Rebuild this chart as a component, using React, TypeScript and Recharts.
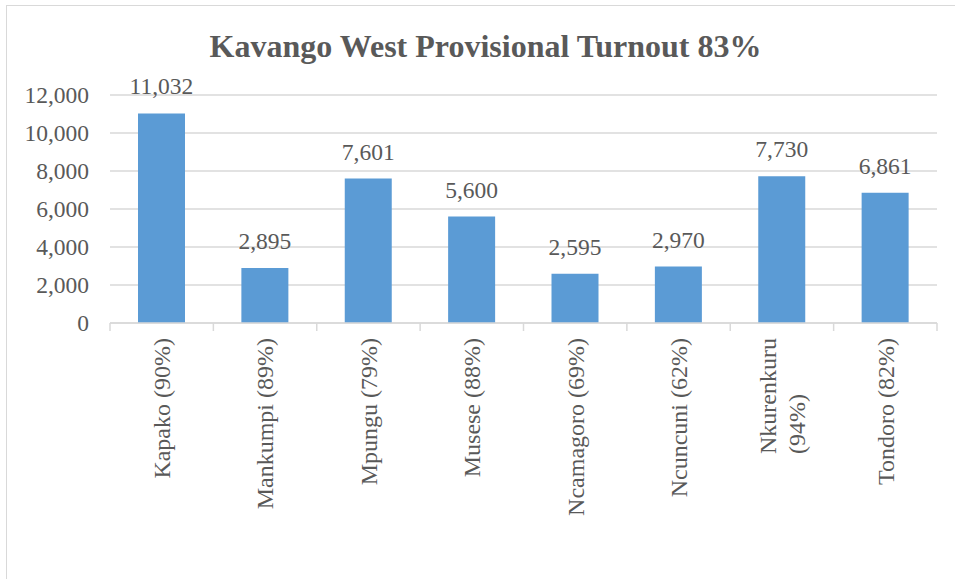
import React from 'react';
import { BarChart, Bar, XAxis, YAxis, CartesianGrid, LabelList } from 'recharts';

const categories = [
  'Kapako (90%)',
  'Mankumpi (89%)',
  'Mpungu (79%)',
  'Musese (88%)',
  'Ncamagoro (69%)',
  'Ncuncuni (62%)',
  'Nkurenkuru\n(94%)',
  'Tondoro (82%)',
];
const turnout = [11032, 2895, 7601, 5600, 2595, 2970, 7730, 6861];
const yTicks = [0, 2000, 4000, 6000, 8000, 10000, 12000];

const data = categories.map((name, i) => ({ name, turnout: turnout[i] }));

const FONT = '"Liberation Serif", "Times New Roman", serif';
const TEXT = '#595959';
const GRID = '#d9d9d9';

let ctx: CanvasRenderingContext2D | null = null;
const measure = (s: string, size: number) => {
  if (!ctx) ctx = document.createElement('canvas').getContext('2d');
  if (!ctx) return s.length * size * 0.5;
  ctx.font = `${size}px "Liberation Serif"`;
  return ctx.measureText(s).width;
};

const fmt = (v: any) => Number(v).toLocaleString('en-US');

// rotated category labels + tick marks on the band edges (like Excel)
const CategoryTick = (props: any) => {
  const { x, y, payload, index } = props;
  const band = (props.width || 827) / categories.length;
  const lines = String(payload.value).split('\n');
  const size = 24;
  const lh = 29;
  const top = y + 15;
  const longest = Math.max(...lines.map((l) => measure(l, size)));
  const bottom = top + longest;
  return (
    <g>
      <line x1={x - band / 2} x2={x - band / 2} y1={y} y2={y + 8} stroke={GRID} strokeWidth={1.5} />
      {index === categories.length - 1 && (
        <line x1={x + band / 2} x2={x + band / 2} y1={y} y2={y + 8} stroke={GRID} strokeWidth={1.5} />
      )}
      {lines.map((l, i) => {
        const cx = x + (i - (lines.length - 1) / 2) * lh;
        return (
          <text
            key={i}
            transform={`translate(${cx},${bottom}) rotate(-90)`}
            dy="0.35em"
            textAnchor="start"
            fill={TEXT}
            fontSize={size}
            fontFamily={FONT}
          >
            {l}
          </text>
        );
      })}
    </g>
  );
};

export default function App() {
  return (
    <div style={{ position: 'absolute', left: 0, top: 0, width: 955, height: 579, overflow: 'hidden', background: '#fff' }}>
      <div
        style={{
          position: 'absolute',
          left: 6,
          top: 5,
          width: 1000,
          height: 700,
          border: `1.5px solid ${GRID}`,
          boxSizing: 'border-box',
        }}
      />
      <div
        style={{
          position: 'absolute',
          left: 0,
          top: 30,
          width: 971,
          textAlign: 'center',
          fontFamily: FONT,
          fontWeight: 'bold',
          fontSize: 32,
          lineHeight: '32px',
          color: TEXT,
        }}
      >
        Kavango West Provisional Turnout 83%
      </div>
      <div style={{ position: 'absolute', left: 0, top: 0 }}>
        <BarChart width={955} height={579} data={data} margin={{ top: 95, right: 18, left: 0, bottom: 0 }}>
          <CartesianGrid vertical={false} stroke={GRID} strokeWidth={1.5} />
          <XAxis
            dataKey="name"
            height={256}
            interval={0}
            tickLine={false}
            tickSize={0}
            tickMargin={0}
            axisLine={{ stroke: GRID, strokeWidth: 1.5 }}
            tick={<CategoryTick />}
          />
          <YAxis
            width={110}
            domain={[0, 12000]}
            ticks={yTicks}
            tickFormatter={fmt}
            axisLine={false}
            tickLine={false}
            tickSize={0}
            tickMargin={21}
            tick={{ fill: TEXT, fontSize: 23.5, fontFamily: FONT }}
          />
          <Bar dataKey="turnout" fill="#5B9BD5" barSize={47} isAnimationActive={false}>
            <LabelList
              dataKey="turnout"
              position="top"
              offset={19}
              formatter={fmt}
              style={{ fill: TEXT, fontSize: 23.5, fontFamily: FONT }}
            />
          </Bar>
        </BarChart>
      </div>
    </div>
  );
}
